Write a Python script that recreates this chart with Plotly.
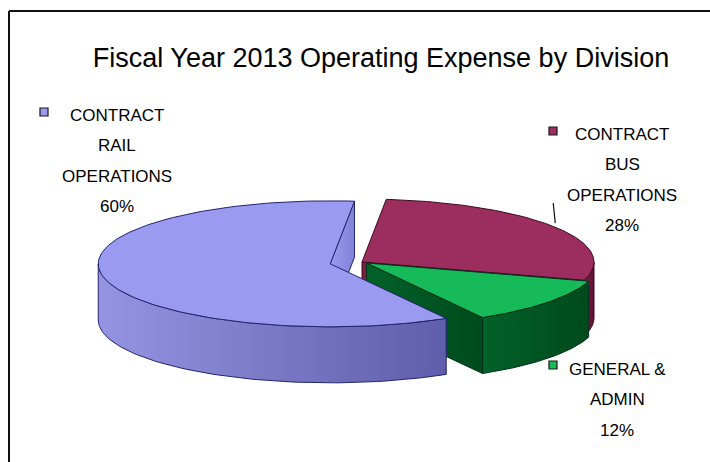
import numpy as np
import plotly.graph_objects as go

# ---- data -------------------------------------------------------------
categories = ["CONTRACT RAIL OPERATIONS", "CONTRACT BUS OPERATIONS", "GENERAL & ADMIN"]
label_lines = [["CONTRACT", "RAIL", "OPERATIONS"],
               ["CONTRACT", "BUS", "OPERATIONS"],
               ["GENERAL &", "ADMIN"]]
shares = [60, 28, 12]

# ---- styling ----------------------------------------------------------
top_colors = ["#9a9af0", "#9b2d5f", "#16ba58"]
wall_light = ["#9494e2", "#7a1d45", "#006228"]
wall_dark = ["#5e5eaa", "#5e1232", "#004a1c"]
edge_colors = ["#24246e", "#3d0a1f", "#00321a"]
explode = [0.14, 0.0, 0.025]

W, H = 710, 462
CX, CY = 362, 262          # pie centre (pixels)
RX, RY = 232, 63           # ellipse radii of the tilted disc
DEPTH = 56                 # thickness of the disc
START = 150                # first slice start, degrees clockwise from 12 o'clock

FONT = "Arial, Liberation Sans, sans-serif"

fig = go.Figure()


def rim(theta_deg, off, z=0.0):
    t = np.radians(theta_deg)
    return (CX + off[0] + RX * np.sin(t),
            CY + off[1] - RY * np.cos(t) + z)


def poly(xs, ys, fill, edge, gradient=None):
    kw = dict(x=list(xs) + [xs[0]], y=list(ys) + [ys[0]], mode="lines",
              fill="toself", line=dict(color=edge, width=1),
              hoverinfo="skip", showlegend=False)
    if gradient is not None:
        kw["fillgradient"] = dict(type="horizontal", colorscale=gradient)
    else:
        kw["fillcolor"] = fill
    fig.add_trace(go.Scatter(**kw))


# angular extent of each slice
total = float(sum(shares))
bounds = []
a = START
for v in shares:
    span = 360.0 * v / total
    bounds.append((a, a + span))
    a += span

offsets = []
for i, (t0, t1) in enumerate(bounds):
    mid = np.radians((t0 + t1) / 2)
    offsets.append((explode[i] * RX * np.sin(mid), -explode[i] * RY * np.cos(mid)))

# back slices first, rail slice (largest, exploded to the front-left) last
order = [1, 2, 0]
for i in order:
    t0, t1 = bounds[i]
    off = offsets[i]
    apex = (CX + off[0], CY + off[1])

    # outer curved wall: only the half facing the viewer (90..270 deg)
    for k in (-1, 0, 1):
        lo, hi = max(t0, 90 + 360 * k), min(t1, 270 + 360 * k)
        if hi > lo:
            th = np.linspace(lo, hi, 80)
            top = [rim(t, off) for t in th]
            bot = [rim(t, off, DEPTH) for t in th[::-1]]
            pts = top + bot
            poly([p[0] for p in pts], [p[1] for p in pts], wall_light[i], edge_colors[i],
                 gradient=[[0, wall_light[i]], [1, wall_dark[i]]])

    # flat radial faces that turn toward the viewer
    for edge_ang, normal in ((t0, t0 - 90), (t1, t1 + 90)):
        if -np.cos(np.radians(normal)) > 0:
            r0 = rim(edge_ang, off)
            r1 = rim(edge_ang, off, DEPTH)
            xs = [apex[0], r0[0], r1[0], apex[0]]
            ys = [apex[1], r0[1], r1[1], apex[1] + DEPTH]
            face = top_colors[i] if i == 0 else wall_light[i]
            poly(xs, ys, face, edge_colors[i],
                 gradient=[[0, face], [1, wall_dark[i] if i else "#8282d8"]])

    # top face of the slice
    th = np.linspace(t0, t1, 160)
    pts = [apex] + [rim(t, off) for t in th]
    poly([p[0] for p in pts], [p[1] for p in pts], top_colors[i], edge_colors[i])

# ---- data labels --------------------------------------------------------
label_pos = [(117, 115), (622, 134), (617, 369)]   # centre x, first line y
marker_pos = [(44, 112), (553, 131), (553, 365)]
LINE_STEP = 30.5

for i, lines in enumerate(label_lines):
    lx, ly = label_pos[i]
    for j, txt in enumerate(lines + [f"{shares[i]}%"]):
        fig.add_annotation(x=lx, y=ly + j * LINE_STEP, xref="x", yref="y", text=txt,
                           showarrow=False, xanchor="center", yanchor="middle",
                           font=dict(family=FONT, size=17, color="#000000"))

fig.add_trace(go.Scatter(
    x=[p[0] for p in marker_pos], y=[p[1] for p in marker_pos], mode="markers",
    marker=dict(symbol="square", size=8, color=top_colors,
                line=dict(color="#1a1a1a", width=1.2)),
    hoverinfo="skip", showlegend=False))

# leader line from the bus label to the middle of its slice rim
b0, b1 = bounds[1]
end = rim((b0 + b1) / 2, offsets[1])
fig.add_shape(type="line", x0=end[0] - 2, y0=203, x1=end[0], y1=end[1] - 4,
              xref="x", yref="y", line=dict(color="#111111", width=1.2))

# chart frame (top and left border of the chart area)
fig.add_shape(type="line", x0=9, y0=11, x1=W, y1=11, xref="x", yref="y",
              line=dict(color="#111111", width=2))
fig.add_shape(type="line", x0=9, y0=11, x1=9, y1=H, xref="x", yref="y",
              line=dict(color="#111111", width=2))

fig.update_layout(
    width=W, height=H, margin=dict(l=0, r=0, t=0, b=0),
    paper_bgcolor="white", plot_bgcolor="white",
    title=dict(text="Fiscal Year 2013 Operating Expense by Division",
               x=381 / W, xanchor="center", y=1 - 58 / H, yanchor="middle",
               font=dict(family=FONT, size=27, color="#000000")),
    xaxis=dict(range=[0, W], visible=False, fixedrange=True),
    yaxis=dict(range=[H, 0], visible=False, fixedrange=True),
)

fig.write_html("out.html")
